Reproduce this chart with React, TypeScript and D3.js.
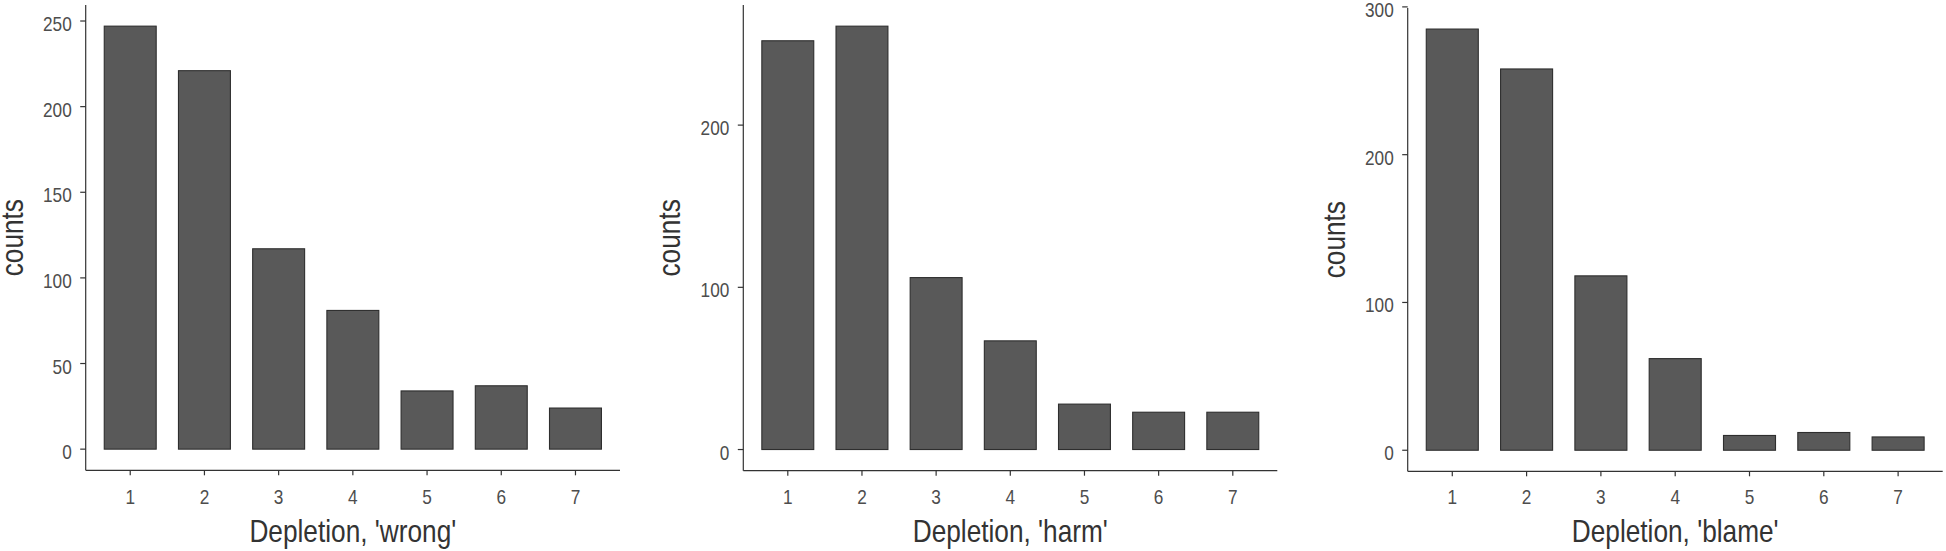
import React from 'react';
import * as d3 from 'd3';

// depletion rating levels (x categories)
const levels = ['1', '2', '3', '4', '5', '6', '7'];

// counts per level
const wrongCounts = [247, 221, 117, 81, 34, 37, 24];
const harmCounts = [252, 261, 106, 67, 28, 23, 23];
const blameCounts = [285, 258, 118, 62, 10, 12, 9];

// y tick labels per panel
const wrongTicks = [0, 50, 100, 150, 200, 250];
const harmTicks = [0, 100, 200];
const blameTicks = [0, 100, 200, 300];

const xTitles = ["Depletion, 'wrong'", "Depletion, 'harm'", "Depletion, 'blame'"];

const W = 1946;
const H = 551;
const FONT = "'Liberation Sans', Arial, sans-serif";
const NARROW = 0.82; // squeeze Liberation Sans to look like a narrow face
const AXIS = '#333333';

// plot boxes (panel area inside the axes)
const boxes = [
  { left: 85.7, right: 620, top: 5, bottom: 470.3 },
  { left: 743.3, right: 1277.3, top: 5, bottom: 470.7 },
  { left: 1407.7, right: 1942.7, top: 8, bottom: 471.3 },
];

type Box = { left: number; right: number; top: number; bottom: number };

const NText = ({ x, y, anchor, size, fill, rotate, children }: any) => (
  <g transform={`translate(${x},${y})${rotate ? ' rotate(-90)' : ''} scale(${NARROW},1)`}>
    <text textAnchor={anchor} fontSize={size} fill={fill} fontFamily={FONT}>
      {children}
    </text>
  </g>
);

const Panel = ({ counts, ticks, title, box }: { counts: number[]; ticks: number[]; title: string; box: Box }) => {
  const x = d3.scaleBand<string>()
    .domain(levels)
    .range([box.left, box.right])
    .paddingInner(0.3)
    .paddingOuter(0.25);

  const maxVal = d3.max(counts) as number;
  // ggplot-like 5% expansion on both ends
  const y = d3.scaleLinear()
    .domain([-0.05 * maxVal, 1.05 * maxVal])
    .range([box.bottom, box.top]);

  const midY = (box.top + box.bottom) / 2;
  const midX = (box.left + box.right) / 2;

  return (
    <g>
      {counts.map((v, i) => (
        <rect
          key={levels[i]}
          x={x(levels[i])}
          y={y(v)}
          width={x.bandwidth()}
          height={y(0) - y(v)}
          fill="#595959"
          stroke="#2e2e2e"
          strokeWidth={1.1}
        />
      ))}

      {/* y axis */}
      <line x1={box.left} x2={box.left} y1={box.top} y2={box.bottom} stroke={AXIS} strokeWidth={1.2} />
      {ticks.map(t => (
        <g key={t}>
          <line x1={box.left - 5.5} x2={box.left} y1={y(t)} y2={y(t)} stroke={AXIS} strokeWidth={1.2} />
          <NText x={box.left - 14} y={y(t) + 10} anchor="end" size={21} fill="#4d4d4d">
            {t}
          </NText>
        </g>
      ))}

      {/* x axis */}
      <line x1={box.left} x2={box.right} y1={box.bottom} y2={box.bottom} stroke={AXIS} strokeWidth={1.2} />
      {levels.map(l => {
        const cx = (x(l) as number) + x.bandwidth() / 2;
        return (
          <g key={l}>
            <line x1={cx} x2={cx} y1={box.bottom} y2={box.bottom + 5} stroke={AXIS} strokeWidth={1.2} />
            <NText x={cx} y={503.5} anchor="middle" size={21} fill="#4d4d4d">
              {l}
            </NText>
          </g>
        );
      })}

      {/* titles */}
      <NText x={midX} y={542} anchor="middle" size={32} fill="#333333">
        {title}
      </NText>
      <NText x={box.left - 63} y={midY} anchor="middle" size={32} fill="#333333" rotate>
        counts
      </NText>
    </g>
  );
};

export default function App() {
  return (
    <svg
      width={W}
      height={H}
      style={{ position: 'absolute', left: 0, top: 0, background: '#ffffff' }}
    >
      <rect width={W} height={H} fill="#ffffff" />
      <Panel counts={wrongCounts} ticks={wrongTicks} title={xTitles[0]} box={boxes[0]} />
      <Panel counts={harmCounts} ticks={harmTicks} title={xTitles[1]} box={boxes[1]} />
      <Panel counts={blameCounts} ticks={blameTicks} title={xTitles[2]} box={boxes[2]} />
    </svg>
  );
}
